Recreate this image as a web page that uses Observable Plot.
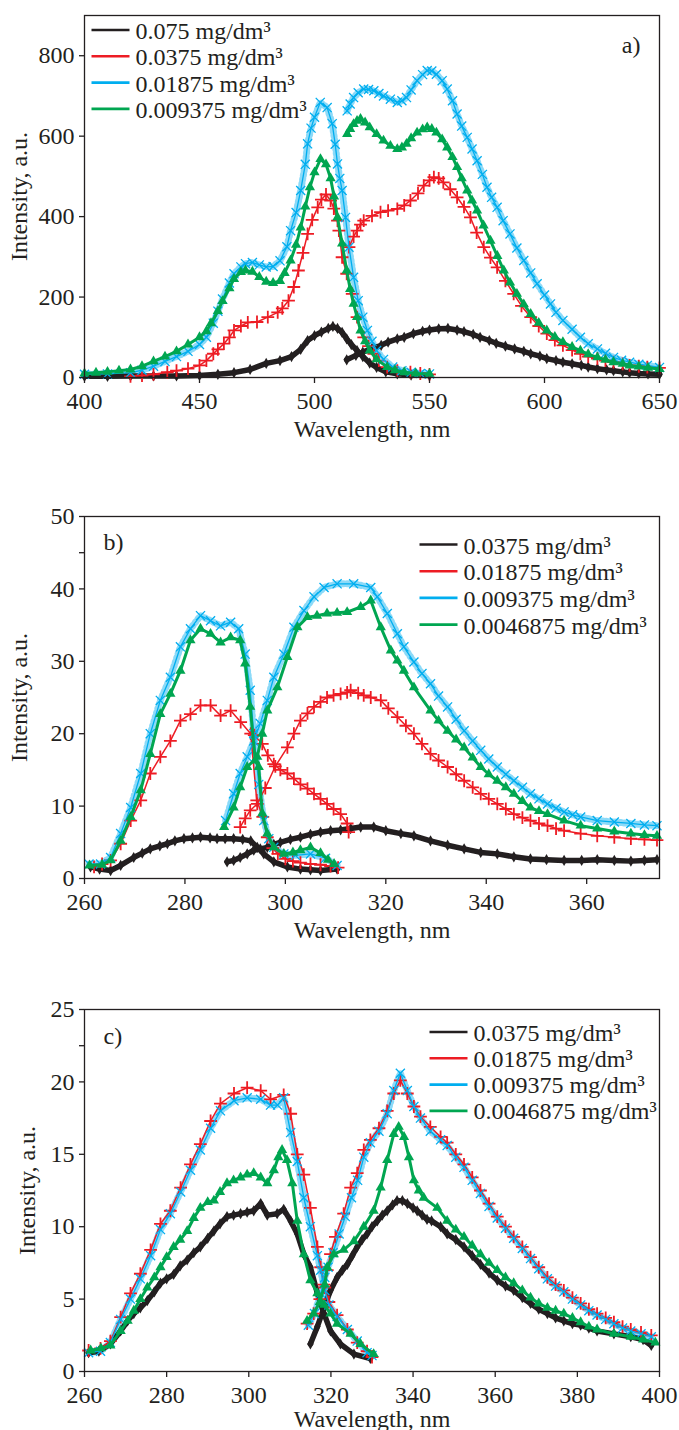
<!DOCTYPE html>
<html><head><meta charset="utf-8">
<script src="https://cdn.jsdelivr.net/npm/d3@7"></script>
<script src="https://cdn.jsdelivr.net/npm/@observablehq/plot@0.6"></script>
<style>
html,body{margin:0;padding:0;background:#fff;}
#chart{width:679px;}
#chart svg{display:block;}
</style></head><body><div id="chart"></div>
<script>
// ---------- Panel a: wavelength (nm), intensity (a.u.) ----------
const aBlackEx = [[400,3],[410,3],[420,4],[430,4],[440,4],[450,5],[458,8],[465,12],[472,20],[479,35],[485,42],[490,52],[494,70],[497,92],[500,104],[503,113],[506,122],[508,127],[510,122],[512,112],[514,96],[516,82],[518.5,67],[521,52],[524,36],[527,25],[531,14],[536,9],[542,6],[550,5]];
const aBlackEm = [[514,44],[518,55],[521,63],[525,72],[529,80],[532,88],[536,96],[539,100],[543,109],[547,115],[550,118],[554,121],[558,122],[562,118],[565,114],[569,107],[572,100],[576,92],[579,85],[583,78],[587,71],[591,65],[594,59],[598,53],[601,47],[605,42],[608,38],[612,34],[616,30],[619,26],[623,22],[627,19],[630,17],[634,14],[637,12],[641,10],[645,9],[650,8]];
const aRedEx = [[420,3],[425,5],[430,8],[436,13],[440,17],[445,22],[450,30],[453,42],[456,59],[458,70],[460.6,84],[463,100],[465,117],[468,128],[471,137],[475,138],[479.7,150],[484,162],[486,172],[488.7,191],[491,225],[493,266],[495,310],[497,357],[499,392],[501.4,423],[503,442],[505,455],[507,440],[508.4,420],[510,390],[510.6,365],[512,299],[514,258],[516.4,208],[518.5,150],[521.4,100],[523.5,78],[525.8,59],[528,42],[531.6,26],[536,17],[541.7,13],[546,10],[550,8]];
const aRedEm = [[515,324],[517,350],[518.5,365],[520,380],[521.4,390],[525,402],[528.7,411],[532,415],[536,419],[539,428],[541.7,440],[545,458],[547.5,477],[550,490],[551.9,498],[554,495],[556,485],[559,468],[562,448],[565,424],[567.8,398],[570.5,360],[573.6,324],[576.5,298],[579.4,274],[583,240],[586.6,208],[590,178],[594,150],[597.5,128],[601,109],[604.5,93],[608,80],[612,68],[615.6,59],[619,52],[623,47],[626.5,42],[630,38],[634,34],[637,30],[641,28],[644.7,26],[650,24]];
const aBlueEx = [[400,8],[410,9],[420,12],[425,18],[430,28],[435,40],[440,52],[445,65],[450,82],[453,100],[456,135],[458,165],[460,195],[463,235],[465,258],[468,275],[470,283],[473,286],[476,280],[479,275],[482,276],[485,290],[488,325],[489.6,365],[492,410],[494,465],[496,530],[497,581],[498.5,620],[500,647],[502.5,684],[505.5,671],[507.7,631],[509,580],[510,531],[511,495],[512,465],[513.5,398],[515,324],[517,249],[519,191],[521,150],[523,117],[525,90],[527,67],[530,45],[534,26],[538,17],[542,13],[546,10],[550,9]];
const aBlueEm = [[514.2,663],[515.5,680],[517,696],[519,708],[521.4,717],[523.5,716],[525.8,713],[528,706],[530,700],[533,692],[536,684],[538,688],[540,696],[542,715],[544.6,738],[547,753],[549,763],[551,762],[553,754],[555.5,738],[557.7,717],[560,688],[562,655],[564,625],[566.4,597],[568.5,568],[570.7,539],[573,505],[575,473],[577,448],[579.4,423],[582,390],[585,357],[588,322],[591,291],[594,260],[596.8,233],[600,205],[602.6,183],[605,162],[608,142],[612,120],[615.6,100],[619,84],[623,71],[626.5,60],[630,50],[633.5,43],[637,38],[641,33],[644.7,30],[650,25]];
const aGreenEx = [[400,10],[405,12],[410,14],[415,17],[420,20],[425,28],[430,40],[435,52],[440,65],[445,82],[450,100],[453,115],[455,135],[458,165],[460,190],[463,222],[465,245],[468,262],[470,266],[473,263],[476,250],[479,238],[482,235],[485,240],[487,260],[489.6,291],[492,330],[494,373],[496,425],[498,473],[500,510],[502.6,543],[505,530],[507,495],[508.5,450],[510,398],[512,333],[514,266],[515.5,220],[517,183],[518.5,150],[520,117],[522,90],[524,67],[527,45],[531.6,26],[535,18],[539,13],[544,10],[550,9]];
const aGreenEm = [[514.2,605],[515.5,618],[517,630],[518.5,638],[520,643],[522,634],[524,622],[527,605],[530,589],[533,576],[536,568],[538,572],[540,581],[542,595],[544.6,609],[547,617],[549,622],[551,618],[553,609],[555.5,592],[557.7,572],[560,548],[562,523],[564,495],[566.4,465],[568.5,440],[570.7,415],[573.5,378],[576.5,340],[579.5,302],[582.3,266],[585,236],[588,208],[591,182],[594,158],[597.5,136],[601,117],[604.5,101],[608,88],[612,76],[615.6,67],[619,58],[623,50],[626.5,44],[630,38],[634,34],[637,30],[641,27],[645,24],[650,21]];

// ---------- Panel b ----------
const bBlackEx = [[261.2,1.6],[263,1.3],[265.2,1.1],[267.2,1.8],[269.8,2.9],[271.5,3.5],[273.1,4.1],[275,4.5],[276.5,4.8],[278,5.2],[279.8,5.5],[281.5,5.6],[283.1,5.7],[285,5.6],[286.4,5.5],[288,5.5],[289.7,5.5],[291.5,5.4],[293.1,5.2],[294.4,4.3],[295.7,3.4],[297.7,2.3],[300.4,1.6],[303,1.3],[305,1.2],[307,1.1],[310.3,1.3]];
const bBlackEm = [[288.4,2.3],[289.7,2.5],[291,2.9],[292.4,3.4],[293.7,3.9],[295,4.1],[296.4,4.3],[297.7,4.7],[299,5.0],[301,5.4],[303,5.7],[305,6.1],[307,6.4],[309,6.6],[311,6.7],[313,6.9],[315,7.1],[317.6,7.1],[320,6.6],[323,6.2],[325.6,5.9],[328.9,5.2],[332.3,4.6],[335.6,4.1],[338.9,3.6],[342.2,3.4],[345.5,3.0],[348.8,2.7],[352,2.6],[355.5,2.5],[359,2.5],[362.1,2.6],[365.5,2.5],[368.8,2.4],[371.5,2.5],[374,2.6]];
const bRedEx = [[261.9,1.6],[263.5,2.0],[265.2,2.5],[267.2,4.8],[269.2,8],[271.2,10.8],[273.1,14.5],[275.1,16.8],[277.1,19],[279.1,21.8],[281.1,22.7],[283.1,23.9],[285.1,23.9],[287.1,22.5],[289.1,23.2],[291.1,21.6],[293.1,20],[294.3,10.8],[295.5,8.5],[296.4,5.7],[297.5,4.2],[298.5,3.4],[300,2.7],[301.5,2.4],[303,2.2],[305,2.0],[307,1.9],[309,1.7],[310.5,1.5]];
const bRedMid = [[293.8,19.8],[295.4,18.6],[296.5,17],[297.7,15.8],[299,15],[300.4,14.5],[301.7,13.8],[303,13],[304.4,12.4],[305.7,11.7],[307,11],[308.3,10.3],[309.6,9.6],[311,8.9],[312.3,7.6],[312.6,6.4]];
const bRedEm = [[291,7.1],[292,8.3],[293,9.4],[294.4,10.3],[296,12.5],[298,15.5],[300.4,18.1],[301.7,20],[303,21.8],[304.4,22.8],[305.7,23.7],[307,24.4],[308.3,25],[309.6,25.3],[311,25.5],[312.3,25.7],[313,26],[314.5,25.6],[315.6,25.3],[317,25],[319,24.6],[320.5,23.5],[322.3,22.3],[324,21.1],[325.6,20],[327.2,18.6],[328.9,17.2],[330.5,16.3],[332.3,15.4],[334,14.4],[335.6,13.5],[337.3,12.6],[338.9,11.7],[340.5,11],[342.2,10.3],[343.9,9.6],[345.5,8.9],[347.2,8.4],[348.8,8.0],[350.5,7.6],[352.2,7.3],[353.9,6.9],[355.5,6.6],[358.8,6.2],[362.1,5.9],[365.5,5.7],[368.8,5.5],[371.5,5.4],[374,5.3]];
const bBlueEx = [[260.9,2.0],[263.2,2.0],[265.2,2.9],[267.2,6.2],[269.2,9.8],[271.2,14.5],[273.1,20],[275.1,24.6],[277.1,27.8],[279.1,32],[281.1,34.5],[283.1,36.3],[285.1,35.6],[287.1,34.9],[289.1,35.4],[290.7,34.5],[292,31],[293,26],[293.7,20],[294.7,13],[295.7,8],[296.7,5.5],[297.7,4.3],[299.7,3.4],[302,3.2],[305,3.4],[308,2.8],[310.3,1.8]];
const bBlueEm = [[288.1,8],[289.7,11.7],[291,14.5],[292.4,16.8],[293.7,19],[295,21.4],[296.4,24.6],[297.7,27.8],[299.7,31],[301.7,34.7],[303.7,37],[305.7,38.9],[307.7,40.2],[310.3,40.7],[313.6,40.7],[317,40.2],[318.3,38.9],[320.3,36.6],[322.3,33.8],[323.6,32],[325.6,29.9],[327.2,28.3],[328.9,26.9],[330.5,25.2],[332.3,23.7],[334,22],[335.6,20.4],[337.3,19],[338.9,17.7],[340.5,16.5],[342.2,15.4],[343.9,14.4],[345.5,13.5],[347.2,12.6],[348.8,11.7],[350.5,11],[352.2,10.3],[353.9,9.7],[355.5,9.2],[357.2,8.8],[358.8,8.5],[362.1,8.0],[365.5,7.8],[368.8,7.6],[371.5,7.4],[374,7.3]];
const bGreenEx = [[261,1.8],[263.5,1.9],[265.2,2.5],[267.2,5.2],[269.2,8.5],[271.2,12.2],[273.1,17.2],[275.1,22.7],[277.1,25.5],[279.1,28.7],[281.1,32.9],[283.1,34.5],[285.1,33.8],[287.1,32.6],[289.1,33.3],[291,32.9],[292,29.7],[293,23.7],[294,16.3],[294.7,15.4],[295.4,9],[296.4,6.2],[297.7,4.3],[299.7,3.4],[301.5,3.6],[303,3.9],[305,4.3],[307,3.5],[308.5,2.6],[309.7,2.0]];
const bGreenEm = [[287.8,7.1],[289.7,9.8],[291,12.6],[292.4,15.4],[294.4,16.8],[295.4,20],[296.4,23.2],[298.4,26.4],[300.4,30.6],[302.4,34.7],[304.4,36.1],[306.3,36.3],[308.3,36.6],[310.3,36.7],[312.3,36.8],[315,37.5],[317,38.4],[319,34.7],[321,31.5],[322.3,30.1],[323.6,28.7],[325.6,26.4],[328.9,23.2],[330.5,21.8],[332.3,20.4],[334,19.2],[335.6,18.1],[337.3,16.7],[338.9,15.4],[340.5,14.4],[342.2,13.5],[343.9,12.6],[345.5,11.7],[347.2,10.7],[348.8,9.8],[350.5,9.3],[352.2,8.9],[355.5,8.0],[358.8,7.3],[362.1,6.9],[365.5,6.5],[368.8,6.2],[371.5,6.0],[374,5.9]];

// ---------- Panel c ----------
const cBlackEx = [[261,1.3],[263.5,1.4],[266.3,1.9],[268.8,2.8],[270.5,3.5],[272,4.0],[273.6,4.4],[275.3,4.9],[277,5.5],[278.5,6.1],[280,6.4],[281.7,6.7],[283.3,7.3],[285,7.7],[286.6,8.2],[288.2,8.6],[290,9.2],[291.5,9.7],[293,10.2],[294.7,10.7],[296.3,10.8],[298,10.9],[299.6,11.0],[301.2,11.1],[302.9,11.6],[304.5,10.8],[306.9,10.9],[308.5,11.2],[310.2,10.4],[311.8,9.5],[313.4,8.1],[315,7.2],[316.7,5.4],[318.3,4.0],[319.9,2.8],[322.3,1.9],[325.6,1.2],[329.6,0.9]];
const cBlackEm = [[315,1.9],[316.7,3.1],[318.3,4.4],[319.9,5.6],[321.5,6.5],[322.8,7.0],[324,7.4],[325.2,8.0],[326.4,8.6],[327.6,9.1],[328.8,9.5],[330,10.0],[331.3,10.4],[332.5,10.8],[333.7,11.1],[335,11.5],[336.1,11.8],[337.4,11.8],[338.6,11.6],[340,11.3],[341,11.1],[342.2,10.8],[343.4,10.5],[344.5,10.4],[346.7,10.0],[348.3,9.5],[350.4,9.1],[352.4,8.6],[354.4,8.0],[356.4,7.4],[358.5,6.8],[360.5,6.3],[362.5,5.9],[364.5,5.6],[366.6,5.1],[368.6,4.7],[370.6,4.3],[372.7,4.0],[374.7,3.7],[376.7,3.5],[378.8,3.3],[380.8,3.2],[382.8,3.0],[384.8,2.8],[388.9,2.6],[393,2.4],[396,2.2],[398,1.8]];
const cRedEx = [[261,1.45],[263.9,1.6],[266.3,2.1],[268.8,3.75],[271.2,5.4],[273.6,6.75],[276.1,8.4],[278.5,10.2],[280.9,11.1],[283.4,12.7],[285.8,14.3],[288.2,15.7],[290.7,17.3],[293.1,18.5],[296.4,19.2],[299.6,19.6],[302.9,19.4],[305.3,18.8],[308.5,19.1],[310.2,17.8],[311.8,15],[313.4,13.6],[315,11.3],[316.7,8.6],[317.5,7.2],[318.5,5.8],[319.5,4.8],[321.5,3.9],[324,2.9],[326.4,2.0],[328.8,1.4],[330,1.0]];
const cRedEm = [[314.2,3.3],[315.8,4.0],[317.3,5.0],[318.3,6.0],[319.1,7.0],[319.9,8.1],[321.1,9.3],[323.1,10.9],[324.8,12.7],[326.4,13.7],[328,15.3],[329.6,16],[331.7,16.8],[333.7,18],[335.3,19.2],[336.9,20.1],[338.6,19.2],[340.2,18.3],[341.8,17.6],[344.2,16.9],[346.7,16.2],[348.3,15.8],[350.4,15.0],[352.4,14.3],[354.4,13.4],[356.4,12.5],[358.5,11.6],[360.5,10.7],[362.5,10.0],[364.5,9.3],[366.6,8.6],[368.6,7.9],[370.6,7.2],[372.7,6.5],[374.7,6.0],[376.7,5.6],[378.8,5.1],[380.8,4.7],[382.8,4.3],[384.8,4.0],[386.9,3.7],[388.9,3.4],[391,3.1],[393,2.9],[395.5,2.7],[398,2.5]];
const cBlueEx = [[261,1.3],[263.9,1.4],[266.3,2.0],[268.8,3.6],[271.2,5.0],[273.6,6.4],[276.1,8.0],[278.5,9.8],[280.9,10.9],[283.4,12.4],[285.8,13.9],[288.2,15.3],[290.7,16.8],[293.1,18.0],[296.4,18.7],[299.6,18.9],[302.9,18.8],[305.3,18.4],[307,18.4],[308.5,18.9],[310.2,16.5],[311.8,14.5],[313.4,12.0],[315,10.0],[316.7,8.0],[317.5,7.0],[318.5,5.6],[319.5,4.6],[321.5,3.8],[324,2.9],[326.4,2.1],[328.8,1.3],[330,1.1]];
const cBlueEm = [[314.5,3.2],[316,4.0],[317.5,5.4],[318.5,6.5],[319.3,7.2],[320.5,8.2],[322,9.5],[323.5,10.7],[325,12],[326.5,13.2],[328,14.8],[329.6,15.8],[331.7,16.6],[333.7,17.8],[335.3,19.4],[336.9,20.6],[338.6,19.4],[340.2,18.3],[341.8,17.5],[344.2,16.6],[346.7,16.0],[348.3,15.6],[350.4,14.8],[352.4,14.1],[354.4,13.2],[356.4,12.3],[358.5,11.4],[360.5,10.6],[362.5,9.9],[364.5,9.2],[366.6,8.5],[368.6,7.8],[370.6,7.1],[372.7,6.4],[374.7,5.9],[376.7,5.5],[378.8,5.0],[380.8,4.6],[382.8,4.2],[384.8,3.9],[386.9,3.6],[388.9,3.3],[391,3.0],[393,2.8],[395.5,2.6],[398,2.4]];
const cGreenEx = [[261.5,1.45],[264,1.6],[266.3,1.8],[268.8,2.8],[270.5,3.5],[272,4.2],[273.6,5.0],[275.3,5.8],[277,6.5],[278.5,7.2],[280,7.9],[281.7,8.6],[283.3,9.1],[285,9.7],[286.6,10.6],[288.2,11.3],[290,11.7],[291.5,11.8],[293,12.4],[294.7,13],[296.3,13.2],[298,13.4],[299.6,13.6],[301.2,13.7],[302.9,13.4],[304.5,13.0],[306.1,13.9],[307.2,14.8],[308.1,15.3],[309.3,14.6],[310.6,13],[311.8,10.4],[313.4,8.1],[315,6.3],[316.7,5.4],[318.3,4.6],[319.9,4.0],[321.5,3.3],[324.8,2.6],[327.2,1.9],[330.4,1.2]];
const cGreenEm = [[314.2,3.5],[315.8,4.0],[317.3,4.8],[318.5,6.0],[319.1,7.2],[320.7,8.1],[323.1,8.4],[325.6,9.0],[328,10],[330.4,11.1],[332.1,12.7],[333.7,14.6],[335.3,16.4],[336.5,16.9],[337.8,16.2],[339,14.8],[340.2,13.2],[341.4,12.5],[342.6,12.0],[345.9,11.3],[348.3,10.4],[350.4,9.8],[352.4,9.3],[354.4,8.7],[356.4,8.1],[358.5,7.5],[360.5,7.0],[362.5,6.5],[364.5,6.1],[366.6,5.6],[368.6,5.1],[370.6,4.7],[372.7,4.4],[374.7,4.2],[376.7,4.0],[378.8,3.7],[380.8,3.4],[382.8,3.1],[384.8,2.9],[388.9,2.6],[393,2.4],[396,2.2],[399,2.0]];

// ---------- Labels and ticks ----------
const legendA = ["0.075 mg/dm³", "0.0375 mg/dm³", "0.01875 mg/dm³", "0.009375 mg/dm³"];
const legendB = ["0.0375 mg/dm³", "0.01875 mg/dm³", "0.009375 mg/dm³", "0.0046875 mg/dm³"];
const legendC = ["0.0375 mg/dm³", "0.01875 mg/dm³", "0.009375 mg/dm³", "0.0046875 mg/dm³"];
const xTicksA = [400, 450, 500, 550, 600, 650];
const yTicksA = [0, 200, 400, 600, 800];
const xTicksB = [260, 280, 300, 320, 340, 360];
const yTicksB = [0, 10, 20, 30, 40, 50];
const yMinorB = [45];
const xTicksC = [260, 280, 300, 320, 340, 360, 380, 400];
const yTicksC = [0, 5, 10, 15, 20, 25];
const yMinorC = [22.5];

// ---------- Styling ----------
const SERIES = ["black", "red", "blue", "green"];
const COLOR = {black: "#231f20", red: "#ed1c24", blue: "#00aeef", green: "#00a651"};
const INK = "#231f20";
const FONT = "'Liberation Serif', 'Times New Roman', Times, serif";
const dashSymbol = {draw(ctx) { ctx.moveTo(-19, 0); ctx.lineTo(19, 0); }};

function panel(cfg) {
  const rows = [];
  for (const [series, seg, arr] of cfg.segments)
    for (const [x, y] of arr) rows.push({series, seg: series + seg, x, y});
  const of = s => rows.filter(d => d.series === s);
  const common = {x: "x", y: "y", z: "seg"};
  const marks = [
    // fuzzy dot cloud around the blue curves
    Plot.line(of("blue"), {...common, stroke: COLOR.blue, strokeWidth: 7, strokeDasharray: "1 3.5", strokeOpacity: 0.45}),
    Plot.line(of("black"), {...common, stroke: COLOR.black, strokeWidth: 5.5}),
    Plot.dot(of("black"), {x: "x", y: "y", symbol: "diamond", fill: COLOR.black, r: 3.4}),
    Plot.line(of("red"), {...common, stroke: COLOR.red, strokeWidth: 1.5}),
    Plot.dot(of("red"), {x: "x", y: "y", symbol: "plus", stroke: COLOR.red, fill: "none", strokeWidth: 1.8, r: 4.2}),
    Plot.line(of("blue"), {...common, stroke: COLOR.blue, strokeWidth: 1.3}),
    Plot.dot(of("blue"), {x: "x", y: "y", symbol: "times", stroke: COLOR.blue, fill: "none", strokeWidth: 1.3, r: 4.2}),
    Plot.line(of("green"), {...common, stroke: COLOR.green, strokeWidth: 3}),
    Plot.dot(of("green"), {x: "x", y: "y", symbol: "triangle", fill: COLOR.green, r: 3.8}),
    Plot.frame({stroke: INK, strokeWidth: 1.3}),
    Plot.axisX({ticks: cfg.xTicks, tickSize: 6, tickPadding: 8, stroke: INK, strokeWidth: 1.3,
      label: "Wavelength, nm", labelAnchor: "center", labelOffset: cfg.xLabelOffset, labelArrow: false}),
    Plot.axisY({ticks: cfg.yTicks, tickSize: 5, tickPadding: 5, stroke: INK, strokeWidth: 1.3,
      label: "Intensity, a.u.", labelAnchor: "center", labelOffset: cfg.yLabelOffset, labelArrow: false})
  ];
  if (cfg.yMinor) marks.push(Plot.axisY({ticks: cfg.yMinor, tickSize: 5, tickFormat: () => "", label: null, stroke: INK, strokeWidth: 1.3}));
  cfg.legend.forEach((lab, i) => {
    marks.push(Plot.dot([lab], {frameAnchor: "top-left", dx: cfg.lg.lineDx, dy: cfg.lg.lineDy + i * cfg.lg.step,
      symbol: dashSymbol, stroke: COLOR[SERIES[i]], fill: "none", strokeWidth: 2.6, r: 5}));
    marks.push(Plot.text([lab], {frameAnchor: "top-left", dx: cfg.lg.textDx, dy: cfg.lg.textDy + i * cfg.lg.step,
      text: d => d, textAnchor: "start", lineAnchor: "top", fill: INK, fontSize: 24}));
  });
  marks.push(Plot.text([cfg.tag], {frameAnchor: cfg.tagAnchor, dx: cfg.tagDx, dy: cfg.tagDy, text: d => d,
    textAnchor: cfg.tagAnchor === "top-right" ? "end" : "start", lineAnchor: "top", fill: INK, fontSize: 24}));
  return Plot.plot({
    width: 679, height: cfg.height,
    marginTop: cfg.marginTop, marginBottom: cfg.marginBottom, marginLeft: 84, marginRight: 20,
    style: {fontFamily: FONT, fontSize: "24px", color: INK, background: "#fff", overflow: "visible"},
    x: {domain: cfg.xDomain},
    y: {domain: cfg.yDomain},
    marks
  });
}

const chart = document.getElementById("chart");
chart.append(panel({
  segments: [["black","ex",aBlackEx],["black","em",aBlackEm],["red","ex",aRedEx],["red","em",aRedEm],
             ["blue","ex",aBlueEx],["blue","em",aBlueEm],["green","ex",aGreenEx],["green","em",aGreenEm]],
  xDomain: [400, 650], yDomain: [0, 900], xTicks: xTicksA, yTicks: yTicksA,
  height: 480, marginTop: 15, marginBottom: 103, xLabelOffset: 59, yLabelOffset: 75,
  legend: legendA, lg: {lineDx: 26, lineDy: 14.5, textDx: 51, textDy: 6.5, step: 26.3},
  tag: "a)", tagAnchor: "top-right", tagDx: -19, tagDy: 20
}));
chart.append(panel({
  segments: [["black","ex",bBlackEx],["black","em",bBlackEm],["red","ex",bRedEx],["red","mid",bRedMid],["red","em",bRedEm],
             ["blue","ex",bBlueEx],["blue","em",bBlueEm],["green","ex",bGreenEx],["green","em",bGreenEm]],
  xDomain: [260, 374.5], yDomain: [0, 50], xTicks: xTicksB, yTicks: yTicksB, yMinor: yMinorB,
  height: 510, marginTop: 36, marginBottom: 112, xLabelOffset: 59, yLabelOffset: 75,
  legend: legendB, lg: {lineDx: 354, lineDy: 28, textDx: 379, textDy: 20, step: 26.7},
  tag: "b)", tagAnchor: "top-left", tagDx: 19, tagDy: 16
}));
chart.append(panel({
  segments: [["black","ex",cBlackEx],["black","em",cBlackEm],["red","ex",cRedEx],["red","em",cRedEm],
             ["blue","ex",cBlueEx],["blue","em",cBlueEm],["green","ex",cGreenEx],["green","em",cGreenEm]],
  xDomain: [260, 400], yDomain: [0, 25], xTicks: xTicksC, yTicks: yTicksC, yMinor: yMinorC,
  height: 440, marginTop: 19, marginBottom: 59, xLabelOffset: 55, yLabelOffset: 67,
  legend: legendC, lg: {lineDx: 364, lineDy: 22.5, textDx: 389, textDy: 14, step: 26.3},
  tag: "c)", tagAnchor: "top-left", tagDx: 19, tagDy: 17
}));
</script></body></html>
